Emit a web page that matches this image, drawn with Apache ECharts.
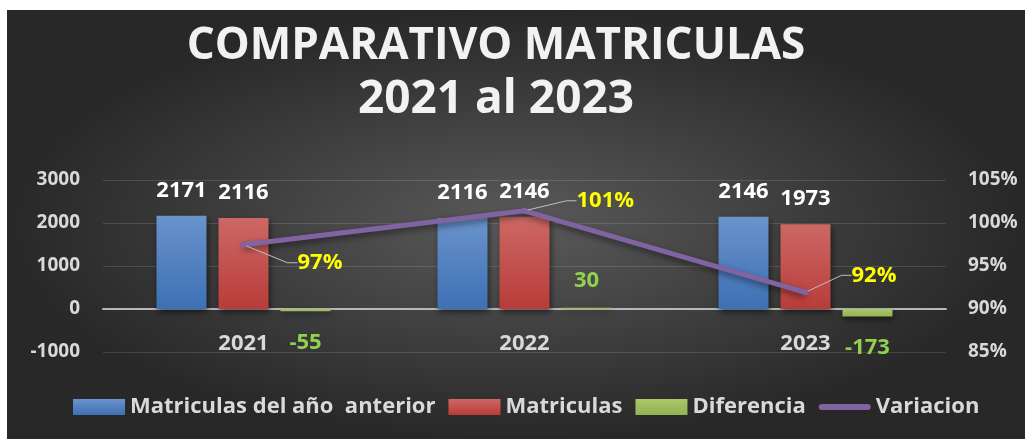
<!DOCTYPE html>
<html>
<head>
<meta charset="utf-8">
<script src="https://cdn.jsdelivr.net/npm/echarts@6/dist/echarts.min.js"></script>
<style>
  html, body { margin: 0; padding: 0; background: #ffffff; }
  #bg { position: absolute; left: 7px; top: 10px; width: 1018px; height: 429px;
        background: radial-gradient(ellipse farthest-side at 50% 50%, #5a5a5a 0%, #3e3e3e 55%, #282828 100%); }
  #chart { position: absolute; left: 0; top: 0; width: 1025px; height: 439px; }
</style>
</head>
<body>
<div id="bg"></div>
<div id="chart"></div>
<script>
// ---- data ----
const categories = ['2021', '2022', '2023'];
const matriculasAnterior = [2171, 2116, 2146];
const matriculas = [2116, 2146, 1973];
const diferencia = [-55, 30, -173];
const variacion = [0.9747, 1.0142, 0.9194];
const titleLines = ['COMPARATIVO MATRICULAS', '2021 al 2023'];
const seriesNames = ['Matriculas del año  anterior', 'Matriculas', 'Diferencia', 'Variacion'];
// label offsets for the variation labels (dx, dy)
const varLabelOffsets = [[46, 18], [44, -10], [38, -17]];

const FONT = '"Open Sans", Lato, "Noto Sans", sans-serif';
const chart = echarts.init(document.getElementById('chart'), null, { renderer: 'canvas' });

function vgrad(top, bottom) {
  return new echarts.graphic.LinearGradient(0, 0, 0, 1, [
    { offset: 0, color: top }, { offset: 1, color: bottom }
  ]);
}

const barShadow = { shadowBlur: 6, shadowColor: 'rgba(0,0,0,0.55)', shadowOffsetY: 3, shadowOffsetX: 1 };

const option = {
  backgroundColor: 'transparent',
  animation: false,
  title: {
    text: '{a|' + titleLines[0] + '}\n{b|' + titleLines[1] + '}',
    left: 496,
    top: 19,
    padding: 0,
    textAlign: 'center',
    textStyle: {
      color: '#f2f2f2', fontFamily: FONT, fontWeight: 'bold', fontSize: 44, lineHeight: 54,
      rich: {
        a: { color: '#f2f2f2', fontFamily: FONT, fontWeight: 'bold', fontSize: 44, lineHeight: 54 },
        b: { color: '#f2f2f2', fontFamily: FONT, fontWeight: 'bold', fontSize: 46, lineHeight: 54 }
      }
    }
  },
  legend: {
    data: [
      { name: seriesNames[0] },
      { name: seriesNames[1] },
      { name: seriesNames[2] },
      { name: seriesNames[3], icon: 'path://M3,0 L49,0 A3,3 0 0 1 49,6 L3,6 A3,3 0 0 1 3,0 Z' }
    ],
    left: 73,
    top: 396,
    padding: 0,
    itemWidth: 52,
    itemHeight: 16,
    itemGap: 13,
    icon: 'rect',
    textStyle: { color: '#d9d9d9', fontFamily: FONT, fontWeight: 'bold', fontSize: 22 }
  },
  grid: { left: 103, right: 79, top: 180, bottom: 87, containLabel: false },
  xAxis: {
    type: 'category',
    data: categories,
    axisLine: { onZero: true, onZeroAxisIndex: 0, lineStyle: { color: '#b8b8b8', width: 2 } },
    axisTick: { show: false },
    axisLabel: { color: '#d9d9d9', fontFamily: FONT, fontWeight: 'bold', fontSize: 22, margin: -19 }
  },
  yAxis: [
    {
      type: 'value', min: -1000, max: 3000, interval: 1000,
      axisLine: { show: false }, axisTick: { show: false },
      splitLine: { lineStyle: { color: 'rgba(255,255,255,0.13)', width: 1 } },
      axisLabel: { color: '#d9d9d9', fontFamily: FONT, fontWeight: 'bold', fontSize: 19, margin: 23,
                   formatter: v => String(v) }
    },
    {
      type: 'value', min: 0.85, max: 1.05, interval: 0.05,
      axisLine: { show: false }, axisTick: { show: false },
      splitLine: { show: false },
      axisLabel: {
        color: '#d9d9d9', fontFamily: FONT, fontWeight: 'bold', fontSize: 19, margin: 22,
        formatter: v => Math.round(v * 100) + '%'
      }
    }
  ],
  series: [
    {
      name: seriesNames[0], type: 'bar', data: matriculasAnterior,
      barWidth: 50, barGap: '24%',
      itemStyle: Object.assign({ color: vgrad('#6a93cb', '#3d70b4') }, barShadow),
      label: { show: true, position: 'top', distance: 14, color: '#ffffff',
               fontFamily: FONT, fontWeight: 'bold', fontSize: 22 }
    },
    {
      name: seriesNames[1], type: 'bar', data: matriculas,
      barWidth: 50, barGap: '24%',
      itemStyle: Object.assign({ color: vgrad('#cd6865', '#b83c39') }, barShadow),
      label: { show: true, position: 'top', distance: 14, color: '#ffffff',
               fontFamily: FONT, fontWeight: 'bold', fontSize: 22 }
    },
    {
      name: seriesNames[2], type: 'bar',
      data: diferencia.map(v => ({
        value: v,
        label: v < 0 ? { position: 'bottom', distance: 20 } : { position: 'top', distance: 16 }
      })),
      barWidth: 50, barGap: '24%',
      itemStyle: Object.assign({ color: vgrad('#a9c96a', '#93b352') }, barShadow),
      label: { show: true, color: '#92d050', fontFamily: FONT, fontWeight: 'bold', fontSize: 22 }
    },
    {
      name: seriesNames[3], type: 'line', yAxisIndex: 1, data: variacion,
      symbol: 'circle', symbolSize: 6, showSymbol: true,
      itemStyle: { color: '#8064a2' },
      lineStyle: { color: '#8064a2', width: 5, shadowBlur: 6, shadowColor: 'rgba(0,0,0,0.5)', shadowOffsetY: 3 },
      z: 5,
      label: {
        show: true, position: 'right', distance: 5, color: '#ffff00',
        fontFamily: FONT, fontWeight: 'bold', fontSize: 22,
        formatter: p => Math.round(p.value * 100) + '%'
      },
      labelLine: { show: true, length2: 10, lineStyle: { color: '#bfbfbf', width: 1 } },
      labelLayout: p => ({ dx: varLabelOffsets[p.dataIndex][0], dy: varLabelOffsets[p.dataIndex][1] })
    }
  ]
};
chart.setOption(option);
</script>
</body>
</html>
